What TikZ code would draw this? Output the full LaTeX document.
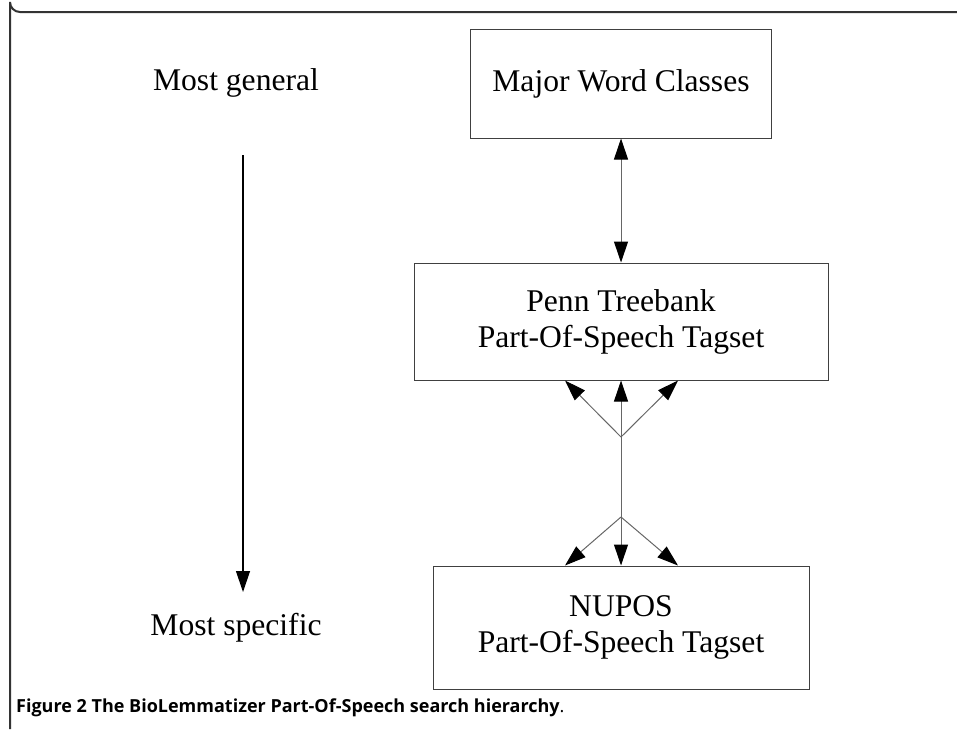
\documentclass[tikz,border=0pt]{standalone}
\usepackage{fontspec}
\setmainfont{Liberation Serif}
\newfontfamily\capfont{Open Sans}
\usetikzlibrary{arrows.meta}
\tikzset{
  box/.style={draw=black!75, line width=1pt, minimum height=#1, align=center, inner sep=0pt, font=\fontsize{31.6}{36}\selectfont},
  lbl/.style={inner sep=0pt, font=\fontsize{31.6}{36}\selectfont},
  tip/.style={Triangle[length=21pt,width=14pt,color=black,fill=black]},
  conn/.style={draw=black!60, line width=1pt, -{Triangle[length=21pt,width=14pt,color=black,fill=black]}},
  dconn/.style={draw=black!60, line width=1pt, {Triangle[length=21pt,width=14pt,color=black,fill=black]}-{Triangle[length=21pt,width=14pt,color=black,fill=black]}},
}
\begin{document}
\begin{tikzpicture}[x=1pt,y=-1pt]
\useasboundingbox (0,0) rectangle (957,729);
\draw[black!80, line width=2pt] (957,12) -- (20,12) arc[start angle=90, end angle=180, radius=10] -- (10,729);
\node[box=109pt, minimum width=301pt] (mwc) at (621,83.5) {Major Word Classes};
\node[box=117pt, minimum width=414pt] (penn) at (621,321.5) {Penn Treebank\\Part-Of-Speech Tagset};
\node[box=123pt, minimum width=376pt] (nupos) at (621,627.5) {NUPOS\\Part-Of-Speech Tagset};
\node[lbl] (gen) at (236,83) {Most general};
\node[lbl] (spec) at (236,628) {Most specific};
\coordinate (jt) at (621,437);
\coordinate (jb) at (621,517);
\coordinate (ls) at (243,155);
\coordinate (le) at (243,592);
\draw[dconn] (mwc.south) -- (penn.north);
\draw[dconn] (penn.south) -- (nupos.north);
\draw[conn] (jt) -- (penn.south -| 565,0);
\draw[conn] (jt) -- (penn.south -| 678,0);
\draw[conn] (jb) -- (nupos.north -| 565,0);
\draw[conn] (jb) -- (nupos.north -| 678,0);
\draw[black, line width=1.2pt, -{Triangle[length=21pt,width=14pt]}] (ls) -- (le);
\node[anchor=west, inner sep=0pt, font=\capfont\fontsize{18}{20}\selectfont] (cap) at (16,708) {\textbf{Figure 2 The BioLemmatizer Part-Of-Speech search hierarchy}.};
\end{tikzpicture}
\end{document}
